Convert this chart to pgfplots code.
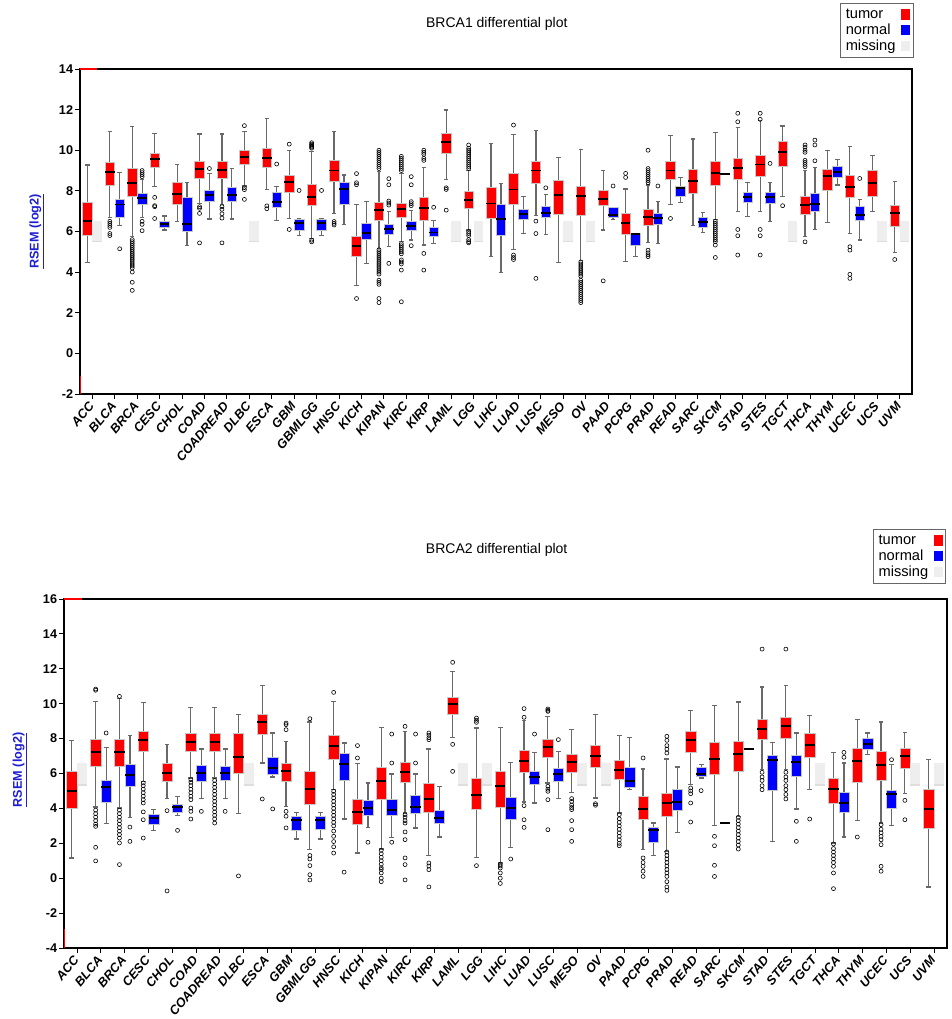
\documentclass[border=0pt]{standalone}
\usepackage{pgfplots}
\pgfplotsset{compat=1.18}
\usepgfplotslibrary{statistics}
\usepackage{fontspec}
\setmainfont{Liberation Sans}
\definecolor{missgray}{RGB}{238,238,238}
\definecolor{labblue}{RGB}{30,30,210}
\definecolor{whisk}{RGB}{105,105,105}

\pgfplotsset{
  tum/.style={mark=o, mark size=1.5pt, mark options={black, line width=0.45pt, fill=none},
    boxplot/every box/.style={fill=red, draw=black!22, line width=0.4pt}},
  nor/.style={mark=o, mark size=1.5pt, mark options={black, line width=0.45pt, fill=none},
    boxplot/every box/.style={fill=blue, draw=black!22, line width=0.4pt}},
  common/.style={
    scale only axis, enlargelimits=false, clip=true,
    xmin=-0.55, xmax=36.55,
    xtick={0,...,36},
    xticklabels={ACC,BLCA,BRCA,CESC,CHOL,COAD,COADREAD,DLBC,ESCA,GBM,GBMLGG,HNSC,KICH,KIPAN,KIRC,KIRP,LAML,LGG,LIHC,LUAD,LUSC,MESO,OV,PAAD,PCPG,PRAD,READ,SARC,SKCM,STAD,STES,TGCT,THCA,THYM,UCEC,UCS,UVM},
    tick align=outside, xtick pos=left, ytick pos=left,
    major tick length=3.5pt,
    axis line style={line width=0.9pt, black},
    tick style={black, line width=0.6pt},
    xticklabel shift=3pt,
    x tick label style={font=\fontsize{9.5}{10}\selectfont\bfseries\itshape, rotate=50, anchor=east, inner sep=1pt},
    y tick label style={font=\fontsize{9.5}{10}\selectfont\bfseries, inner sep=1.5pt},
    boxplot/draw direction=y,
    boxplot/box extend=0.43, boxplot/whisker extend=0.2,
    boxplot/every whisker/.style={draw=whisk, line width=0.9pt},
    boxplot/every median/.style={draw=black, line width=1.4pt},
    title style={font=\fontsize{10.5}{12}\selectfont, anchor=center},
    ylabel style={font=\fontsize{9.5}{11}\selectfont\bfseries, color=labblue, anchor=center},
    legend plot pos=right,
    legend cell align=left,
    legend style={draw=black!60, line width=0.6pt, font=\fontsize{11}{11}\selectfont,
      row sep=-1.5pt, column sep=2.5pt, inner xsep=2pt, inner ysep=2pt, cells={anchor=west}},
  }
}

\newcommand{\bp}[8]{%
  \def\bpout{#8}%
  \ifx\bpout\empty
    \addplot[#1, forget plot, boxplot prepared={draw position=#2, lower whisker=#3, lower quartile=#4, median=#5, upper quartile=#6, upper whisker=#7}] coordinates {};%
  \else
    \addplot[#1, forget plot, boxplot prepared={draw position=#2, lower whisker=#3, lower quartile=#4, median=#5, upper quartile=#6, upper whisker=#7}] table[row sep=\\, y index=0] {v\\ #8};%
  \fi}
\newcommand{\ms}[3]{%
  \addplot[forget plot, draw=none, boxplot prepared={draw position=#1, lower whisker=#2, lower quartile=#2, median=#2, upper quartile=#3, upper whisker=#3, every box/.style={fill=missgray, draw=none}, every whisker/.style={draw=none}, every median/.style={draw=black!13, line width=1pt}}] coordinates {};}

\begin{document}
\begin{tikzpicture}
\path[use as bounding box] (0,0) rectangle (713.25pt,764.25pt);
% ================= BRCA1 =================
\begin{axis}[common, at={(60pt,468.75pt)}, anchor=south west, width=624pt, height=243.75pt,
  ymin=-2, ymax=14, ytick={-2,0,2,4,6,8,10,12,14}, yticklabels={-2,0,2,4,6,8,10,12,14},
  title={BRCA1 differential plot}, title style={at={(0.501,1.114)}},
  ylabel={\underline{RSEM (log2)}}, ylabel style={at={(axis description cs:-0.052,0.5)}},
  legend style={at={(0.9135,1.203)}, anchor=north west}]
\addlegendimage{legend image code/.code={\fill[red] (0pt,-3.5pt) rectangle (6pt,3.5pt);}}\addlegendentry{tumor}
\addlegendimage{legend image code/.code={\fill[blue] (0pt,-3.5pt) rectangle (6pt,3.5pt);}}\addlegendentry{normal}
\addlegendimage{legend image code/.code={\fill[missgray] (0pt,-3.5pt) rectangle (6pt,3.5pt);}}\addlegendentry{missing}
% ACC
\bp{tum}{-0.22}{4.46}{5.82}{6.51}{7.46}{9.27}{}
\ms{0.22}{5.5}{6.5}
% BLCA
\bp{tum}{0.78}{6.7}{8.27}{8.94}{9.39}{10.91}{6.5\\6.4\\6.3\\6.2\\5.9\\5.8\\}
\bp{nor}{1.22}{6.28}{6.69}{7.33}{7.61}{8.89}{5.15\\}
% BRCA
\bp{tum}{1.78}{5.74}{7.74}{8.40}{9.11}{11.16}{5.6\\5.5\\5.4\\5.3\\5.2\\5.1\\5.0\\4.9\\4.8\\4.7\\4.6\\4.5\\4.4\\4.3\\4.2\\4.0\\3.5\\3.1\\}
\bp{nor}{2.22}{6.69}{7.35}{7.66}{7.88}{8.55}{8.7\\8.8\\8.9\\9.0\\6.5\\6.35\\6.04\\}
% CESC
\bp{tum}{2.78}{8.20}{9.16}{9.55}{9.83}{10.83}{7.68\\7.27\\7.22\\6.64\\}
\bp{nor}{3.22}{6.07}{6.23}{6.36}{6.50}{6.76}{}
% CHOL
\bp{tum}{3.78}{6.51}{7.33}{7.84}{8.40}{9.30}{}
\bp{nor}{4.22}{5.31}{5.99}{6.36}{7.68}{8.40}{}
% COAD
\bp{tum}{4.78}{7.38}{8.60}{9.07}{9.47}{10.80}{7.22\\7.14\\6.89\\5.44\\}
\bp{nor}{5.22}{6.61}{7.51}{7.79}{8.04}{8.86}{9.1\\}
% COADREAD
\bp{tum}{5.78}{7.34}{8.60}{9.04}{9.47}{10.80}{7.22\\7.09\\6.87\\6.66\\5.44\\}
\bp{nor}{6.22}{6.61}{7.51}{7.80}{8.17}{9.11}{}
% DLBC
\bp{tum}{6.78}{8.24}{9.32}{9.65}{9.98}{10.91}{11.21\\8.16\\8.06\\7.58\\}
\ms{7.22}{5.5}{6.5}
% ESCA
\bp{tum}{7.78}{8.06}{9.16}{9.63}{10.12}{11.55}{7.26\\7.12\\}
\bp{nor}{8.22}{6.53}{7.18}{7.46}{7.94}{8.20}{9.32\\}
% GBM
\bp{tum}{8.78}{6.64}{7.92}{8.42}{8.75}{9.98}{10.3\\6.1\\}
\bp{nor}{9.22}{5.79}{6.07}{6.40}{6.61}{6.61}{8.02\\}
% GBMLGG
\bp{tum}{9.78}{5.66}{7.27}{7.71}{8.34}{9.95}{10.37\\10.3\\10.25\\10.2\\10.15\\10.1\\5.57\\5.49\\}
\bp{nor}{10.22}{5.79}{6.07}{6.40}{6.61}{6.61}{8.02\\}
% HNSC
\bp{tum}{10.78}{6.89}{8.49}{9.00}{9.49}{10.94}{6.49\\6.40\\6.32\\}
\bp{nor}{11.22}{6.35}{7.32}{8.11}{8.40}{8.78}{}
% KICH
\bp{tum}{11.78}{3.36}{4.76}{5.28}{5.77}{7.33}{8.85\\8.4\\8.3\\2.70\\}
\bp{nor}{12.22}{4.43}{5.61}{5.92}{6.40}{7.46}{}
% KIPAN
\bp{tum}{12.78}{5.17}{6.56}{7.05}{7.46}{8.95}{10.0\\9.9\\9.8\\9.7\\9.6\\9.5\\9.4\\9.3\\9.2\\9.1\\5.1\\5.0\\4.9\\4.8\\4.7\\4.6\\4.5\\4.4\\4.3\\4.2\\4.1\\4.0\\3.9\\3.6\\3.5\\3.4\\2.7\\2.5\\}
\bp{nor}{13.22}{5.25}{5.87}{6.13}{6.36}{7.0}{8.6\\8.3\\7.5\\7.4\\7.3\\4.43\\}
% KIRC
\bp{tum}{13.78}{5.49}{6.68}{7.10}{7.41}{8.85}{9.7\\9.6\\9.5\\9.4\\9.3\\9.2\\9.1\\9.0\\5.4\\5.3\\5.2\\5.1\\5.0\\4.9\\4.6\\4.5\\4.4\\4.1\\2.54\\}
\bp{nor}{14.22}{5.58}{6.04}{6.28}{6.48}{7.05}{8.7\\8.3\\7.47\\7.37\\7.27\\5.30\\}
% KIRP
\bp{tum}{14.78}{5.33}{6.56}{7.14}{7.66}{9.16}{10.0\\9.9\\9.8\\9.6\\9.5\\4.92\\4.1\\}
\bp{nor}{15.22}{5.41}{5.77}{5.95}{6.23}{6.56}{7.19\\}
% LAML
\bp{tum}{15.78}{8.56}{9.85}{10.42}{10.83}{11.98}{8.15\\8.07\\7.05\\}
\ms{16.22}{5.5}{6.5}
% LGG
\bp{tum}{16.78}{6.07}{7.14}{7.55}{7.96}{9.0}{10.26\\10.1\\10.0\\9.9\\9.8\\9.7\\9.6\\9.5\\9.4\\9.3\\9.2\\9.1\\6.0\\5.9\\5.8\\5.6\\5.5\\5.44\\}
\ms{17.22}{5.5}{6.5}
% LIHC
\bp{tum}{17.78}{4.76}{6.64}{7.38}{8.20}{10.34}{}
\bp{nor}{18.22}{3.98}{5.82}{6.61}{7.35}{8.37}{}
% LUAD
\bp{tum}{18.78}{5.13}{7.33}{8.07}{8.86}{10.78}{11.24\\4.84\\4.72\\4.62\\}
\bp{nor}{19.22}{5.90}{6.59}{6.86}{7.09}{7.74}{}
% LUSC
\bp{tum}{19.78}{6.78}{8.37}{9.00}{9.44}{10.99}{6.51\\5.90\\3.69\\}
\bp{nor}{20.22}{5.86}{6.68}{6.92}{7.22}{7.84}{8.15\\}
% MESO
\bp{tum}{20.78}{4.46}{6.86}{7.79}{8.50}{9.65}{}
\ms{21.22}{5.5}{6.5}
% OV
\bp{tum}{21.78}{4.59}{6.78}{7.76}{8.25}{10.04}{4.5\\4.4\\4.3\\4.2\\4.1\\4.0\\3.9\\3.8\\3.6\\3.5\\3.4\\3.3\\3.2\\3.1\\3.0\\2.9\\2.8\\2.7\\2.6\\2.5\\}
\ms{22.22}{5.5}{6.5}
% PAAD
\bp{tum}{22.78}{6.07}{7.27}{7.58}{8.01}{9.02}{3.57\\}
\bp{nor}{23.22}{6.59}{6.69}{6.81}{7.17}{7.17}{8.24\\}
% PCPG
\bp{tum}{23.78}{4.51}{5.87}{6.40}{6.89}{8.09}{8.86\\8.66\\}
\bp{nor}{24.22}{4.76}{5.33}{5.87}{5.90}{5.90}{}
% PRAD
\bp{tum}{24.78}{5.45}{6.32}{6.70}{7.10}{8.29}{10.0\\9.1\\9.0\\8.9\\8.8\\8.7\\8.6\\8.5\\8.4\\5.08\\4.95\\4.85\\4.76\\}
\bp{nor}{25.22}{5.41}{6.36}{6.68}{6.89}{7.46}{8.24\\}
% READ
\bp{tum}{25.78}{7.33}{8.58}{9.00}{9.47}{10.72}{6.64\\}
\bp{nor}{26.22}{7.43}{7.71}{8.12}{8.24}{8.66}{}
% SARC
\bp{tum}{26.78}{6.28}{7.87}{8.50}{9.06}{10.55}{}
\bp{nor}{27.22}{5.95}{6.23}{6.45}{6.68}{6.92}{}
% SKCM
\bp{tum}{27.78}{6.59}{8.29}{8.86}{9.44}{10.88}{6.5\\6.4\\6.3\\6.2\\6.1\\6.0\\5.9\\5.8\\5.7\\5.6\\5.5\\5.33\\4.72\\}
\bp{nor}{28.22}{8.83}{8.83}{8.83}{8.83}{8.83}{}
% STAD
\bp{tum}{28.78}{6.97}{8.56}{9.14}{9.60}{11.11}{11.82\\11.4\\6.10\\5.79\\4.84\\}
\bp{nor}{29.22}{6.72}{7.46}{7.71}{7.92}{8.42}{}
% STES
\bp{tum}{29.78}{7.0}{8.70}{9.30}{9.76}{11.45}{11.82\\11.52\\6.1\\5.79\\4.84\\}
\bp{nor}{30.22}{6.51}{7.38}{7.71}{7.92}{8.42}{9.35\\}
% TGCT
\bp{tum}{30.78}{7.71}{9.22}{9.93}{10.42}{11.19}{7.27\\}
\ms{31.22}{5.5}{6.5}
% THCA
\bp{tum}{31.78}{5.74}{6.86}{7.30}{7.71}{9.02}{10.26\\10.15\\10.0\\9.9\\9.5\\9.4\\9.3\\9.19\\5.49\\}
\bp{nor}{32.22}{6.10}{7.02}{7.35}{7.87}{9.16}{10.5\\10.26\\9.48\\}
% THYM
\bp{tum}{32.78}{6.45}{8.04}{8.73}{9.07}{9.98}{}
\bp{nor}{33.22}{8.29}{8.66}{8.91}{9.19}{9.55}{}
% UCEC
\bp{tum}{33.78}{5.90}{7.66}{8.21}{8.75}{10.17}{5.25\\5.08\\3.89\\3.69\\}
\bp{nor}{34.22}{5.58}{6.53}{6.81}{7.22}{7.58}{8.61\\}
% UCS
\bp{tum}{34.78}{6.97}{7.74}{8.40}{8.99}{9.73}{}
\ms{35.22}{5.5}{6.5}
% UVM
\bp{tum}{35.78}{4.97}{6.28}{6.89}{7.27}{8.45}{4.62\\}
\ms{36.22}{5.5}{6.5}
\draw[red, line width=0.8pt] (axis cs:-0.55,14) -- (axis cs:0.2,14);
\draw[red, line width=0.6pt] (axis cs:-0.55,-1.1) -- (axis cs:-0.55,-2.3);
\end{axis}
% ================= BRCA2 =================
\begin{axis}[common, at={(48pt,53.25pt)}, anchor=south west, width=662.25pt, height=261.75pt,
  ymin=-4, ymax=16, ytick={-4,-2,0,2,4,6,8,10,12,14,16}, yticklabels={-4,-2,0,2,4,6,8,10,12,14,16},
  title={BRCA2 differential plot}, title style={at={(0.490,1.117)}},
  ylabel={\underline{RSEM (log2)}}, ylabel style={at={(axis description cs:-0.0498,0.51)}},
  legend style={at={(0.916,1.2006)}, anchor=north west}]
\addlegendimage{legend image code/.code={\fill[red] (0pt,-3.5pt) rectangle (6pt,3.5pt);}}\addlegendentry{tumor}
\addlegendimage{legend image code/.code={\fill[blue] (0pt,-3.5pt) rectangle (6pt,3.5pt);}}\addlegendentry{normal}
\addlegendimage{legend image code/.code={\fill[missgray] (0pt,-3.5pt) rectangle (6pt,3.5pt);}}\addlegendentry{missing}
% ACC
\bp{tum}{-0.22}{1.16}{4.02}{4.98}{6.12}{7.90}{}
\ms{0.22}{5.35}{6.6}
% BLCA
\bp{tum}{0.78}{4.08}{6.41}{7.23}{7.94}{10.14}{10.84\\10.77\\3.9\\3.7\\3.5\\3.3\\3.1\\2.97\\1.77\\0.99\\}
\bp{nor}{1.22}{3.13}{4.35}{5.21}{5.61}{7.50}{8.32\\}
% BRCA
\bp{tum}{1.78}{4.02}{6.41}{7.23}{7.94}{10.29}{10.42\\3.9\\3.7\\3.5\\3.3\\3.1\\2.9\\2.7\\2.5\\2.3\\2.02\\0.78\\}
\bp{nor}{2.22}{3.47}{5.26}{5.90}{6.54}{8.19}{2.93\\2.11\\}
% CESC
\bp{tum}{2.78}{5.55}{7.27}{7.90}{8.42}{10.08}{5.46\\5.3\\5.1\\4.9\\4.7\\4.5\\4.31\\3.8\\3.35\\2.3\\}
\bp{nor}{3.22}{2.74}{3.11}{3.43}{3.64}{3.93}{}
% CHOL
\bp{tum}{3.78}{4.56}{5.55}{6.03}{6.60}{7.65}{3.87\\-0.73\\}
\bp{nor}{4.22}{3.60}{3.77}{4.08}{4.25}{4.69}{2.74\\}
% COAD
\bp{tum}{4.78}{5.74}{7.27}{7.79}{8.28}{9.79}{5.65\\5.5\\5.3\\5.1\\4.9\\4.7\\4.5\\4.02\\3.83\\3.39\\}
\bp{nor}{5.22}{4.56}{5.55}{6.03}{6.47}{7.40}{3.83\\}
% COADREAD
\bp{tum}{5.78}{5.74}{7.27}{7.81}{8.28}{9.79}{5.6\\5.4\\5.2\\5.0\\4.8\\4.6\\4.4\\4.2\\4.0\\3.8\\3.6\\3.4\\3.16\\}
\bp{nor}{6.22}{4.56}{5.61}{6.03}{6.41}{7.40}{3.83\\}
% DLBC
\bp{tum}{6.78}{3.70}{6.00}{6.93}{8.32}{9.39}{0.13\\}
\ms{7.22}{5.35}{6.6}
% ESCA
\bp{tum}{7.78}{6.60}{8.26}{8.93}{9.41}{11.05}{4.54\\}
\bp{nor}{8.22}{5.80}{5.93}{6.32}{6.93}{8.32}{3.97\\}
% GBM
\bp{tum}{8.78}{4.12}{5.55}{6.12}{6.60}{7.84}{8.89\\8.80\\8.51\\3.83\\3.55\\2.88\\}
\bp{nor}{9.22}{2.25}{2.74}{3.35}{3.55}{3.77}{}
% GBMLGG
\bp{tum}{9.78}{1.64}{4.21}{5.13}{6.12}{8.95}{9.14\\1.3\\1.1\\0.72\\0.2\\-0.1\\}
\bp{nor}{10.22}{2.25}{2.78}{3.35}{3.55}{3.77}{}
% HNSC
\bp{tum}{10.78}{5.07}{6.83}{7.60}{8.19}{10.14}{10.65\\4.98\\4.8\\4.6\\4.4\\4.2\\4.0\\3.8\\3.6\\3.4\\3.2\\3.0\\2.7\\2.4\\2.1\\1.8\\1.44\\}
\bp{nor}{11.22}{3.39}{5.61}{6.54}{7.14}{7.75}{0.35\\}
% KICH
\bp{tum}{11.78}{1.44}{3.11}{3.77}{4.50}{6.56}{7.60\\6.89\\}
\bp{nor}{12.22}{2.91}{3.60}{4.02}{4.44}{5.46}{2.06\\}
% KIPAN
\bp{tum}{12.78}{1.67}{4.50}{5.55}{6.37}{8.65}{1.6\\1.4\\1.2\\1.0\\0.8\\0.6\\0.5\\0.3\\0.0\\-0.2\\}
\bp{nor}{13.22}{2.34}{3.60}{3.93}{4.54}{5.97}{8.26\\6.60\\2.06\\}
% KIRC
\bp{tum}{13.78}{3.74}{5.49}{6.09}{6.66}{8.42}{8.70\\3.64\\3.5\\3.3\\3.16\\2.65\\2.21\\1.16\\0.78\\-0.1\\}
\bp{nor}{14.22}{2.88}{3.74}{4.08}{4.73}{5.97}{8.26\\6.60\\}
% KIRP
\bp{tum}{14.78}{1.29}{3.77}{4.56}{5.42}{7.40}{8.32\\8.2\\8.05\\7.94\\0.87\\0.7\\0.49\\-0.5\\}
\bp{nor}{15.22}{2.36}{3.13}{3.45}{3.87}{5.27}{}
% LAML
\bp{tum}{15.78}{8.07}{9.41}{10.00}{10.38}{11.85}{12.37\\7.67\\6.12\\}
\ms{16.22}{5.35}{6.6}
% LGG
\bp{tum}{16.78}{1.20}{3.93}{4.75}{5.74}{8.61}{9.18\\9.05\\8.93\\0.72\\}
\ms{17.22}{5.35}{6.6}
% LIHC
\bp{tum}{17.78}{0.87}{4.06}{5.30}{6.12}{8.65}{0.8\\0.7\\0.58\\0.3\\0.0\\-0.3\\}
\bp{nor}{18.22}{1.77}{3.39}{4.02}{4.65}{6.64}{1.10\\}
% LUAD
\bp{tum}{18.78}{4.37}{6.09}{6.74}{7.31}{9.05}{9.72\\9.22\\4.16\\3.35\\2.91\\}
\bp{nor}{19.22}{4.31}{5.40}{5.80}{6.12}{7.21}{8.26\\}
% LUSC
\bp{tum}{19.78}{5.46}{6.95}{7.50}{7.94}{9.28}{9.70\\9.62\\9.56\\5.27\\5.1\\4.98\\4.50\\2.78\\}
\bp{nor}{20.22}{4.56}{5.55}{5.97}{6.32}{7.27}{7.94\\}
% MESO
\bp{tum}{20.78}{4.92}{6.09}{6.64}{7.08}{8.51}{4.56\\4.4\\4.2\\4.05\\3.93\\3.30\\2.78\\2.11\\}
\ms{21.22}{5.35}{6.6}
% OV
\bp{tum}{21.78}{4.60}{6.35}{6.98}{7.61}{9.37}{4.27\\4.18\\}
\ms{22.22}{5.35}{6.6}
% PAAD
\bp{tum}{22.78}{3.74}{5.68}{6.22}{6.75}{8.19}{3.64\\3.4\\3.2\\3.0\\2.8\\2.6\\2.4\\2.2\\2.0\\1.86\\}
\bp{nor}{23.22}{5.07}{5.21}{5.55}{6.37}{8.07}{}
% PCPG
\bp{tum}{23.78}{1.64}{3.35}{3.98}{4.69}{6.26}{6.89\\1.16\\0.9\\0.68\\0.4\\0.1\\}
\bp{nor}{24.22}{1.31}{2.07}{2.74}{2.93}{3.16}{}
% PRAD
\bp{tum}{24.78}{1.54}{3.55}{4.31}{4.88}{6.83}{8.13\\7.9\\7.6\\7.4\\7.17\\1.5\\1.3\\1.1\\0.9\\0.7\\0.5\\0.3\\0.1\\-0.2\\-0.5\\-0.7\\}
\bp{nor}{25.22}{2.63}{3.87}{4.37}{5.07}{6.37}{}
% READ
\bp{tum}{25.78}{5.36}{7.21}{7.90}{8.42}{9.62}{5.17\\5.0\\4.84\\4.31\\3.22\\}
\bp{nor}{26.22}{5.74}{5.84}{5.99}{6.35}{6.51}{5.02\\}
% SARC
\bp{tum}{26.78}{3.01}{5.93}{6.85}{7.81}{9.89}{2.40\\1.86\\0.74\\0.1\\}
\bp{nor}{27.22}{3.16}{3.16}{3.16}{3.16}{3.16}{}
% SKCM
\bp{tum}{27.78}{3.55}{6.12}{7.14}{7.84}{10.10}{3.49\\3.3\\3.1\\2.9\\2.7\\2.5\\2.3\\2.1\\1.9\\1.67\\}
\bp{nor}{28.22}{7.40}{7.40}{7.40}{7.40}{7.40}{}
% STAD
\bp{tum}{28.78}{6.22}{7.94}{8.57}{9.12}{10.96}{13.13\\6.07\\5.8\\5.6\\5.3\\5.07\\}
\bp{nor}{29.22}{2.11}{5.02}{6.75}{7.02}{7.79}{}
% STES
\bp{tum}{29.78}{6.22}{8.03}{8.70}{9.22}{11.05}{13.13\\6.07\\5.8\\5.6\\5.3\\5.07\\4.8\\4.54\\}
\bp{nor}{30.22}{3.97}{5.84}{6.64}{7.04}{8.32}{3.26\\2.11\\}
% TGCT
\bp{tum}{30.78}{5.07}{6.95}{7.65}{8.28}{9.33}{3.39\\}
\ms{31.22}{5.35}{6.6}
% THCA
\bp{tum}{31.78}{2.02}{4.27}{5.13}{5.70}{7.21}{1.96\\1.7\\1.5\\1.3\\1.1\\0.9\\0.68\\0.3\\-0.6\\}
\bp{nor}{32.22}{2.36}{3.79}{4.31}{4.92}{6.60}{7.21\\6.93\\}
% THYM
\bp{tum}{32.78}{3.30}{5.51}{6.70}{7.46}{9.08}{2.36\\}
\bp{nor}{33.22}{7.08}{7.40}{7.71}{8.00}{8.32}{}
% UCEC
\bp{tum}{33.78}{3.16}{5.59}{6.51}{7.27}{8.95}{3.07\\2.8\\2.6\\2.4\\2.2\\1.92\\0.68\\0.4\\}
\bp{nor}{34.22}{3.03}{4.02}{4.83}{5.02}{6.51}{6.79\\}
% UCS
\bp{tum}{34.78}{4.84}{6.32}{7.02}{7.42}{8.36}{4.46\\3.35\\}
\ms{35.22}{5.35}{6.6}
% UVM
\bp{tum}{35.78}{-0.5}{2.84}{3.97}{5.07}{6.79}{}
\ms{36.22}{5.35}{6.6}
\draw[red, line width=0.8pt] (axis cs:-0.55,16) -- (axis cs:0.2,16);
\draw[red, line width=0.6pt] (axis cs:-0.55,-2.9) -- (axis cs:-0.55,-5.5);
\end{axis}
\end{tikzpicture}
\end{document}
